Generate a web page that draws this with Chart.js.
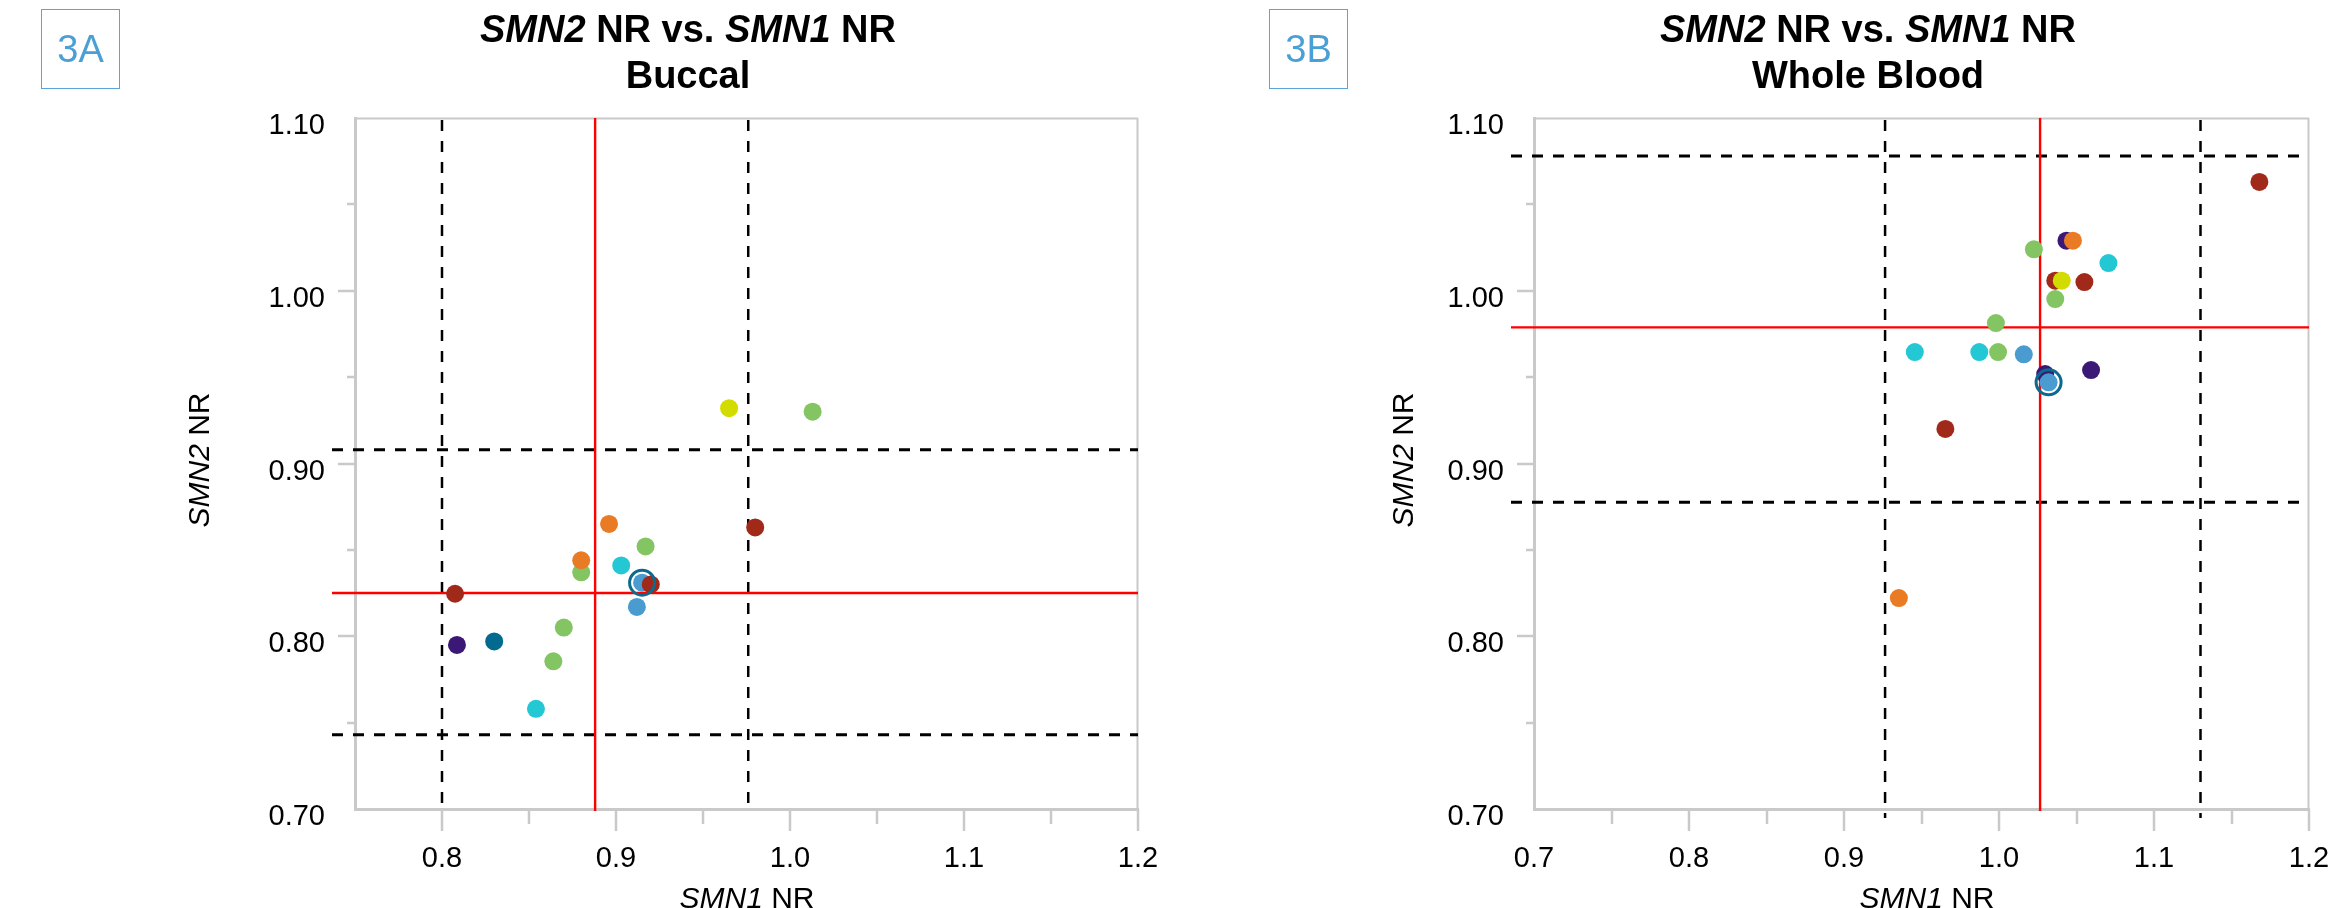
<!DOCTYPE html>
<html>
<head>
<meta charset="utf-8">
<script src="https://cdn.jsdelivr.net/npm/chart.js@4/dist/chart.umd.min.js"></script>
<style>
  html, body { margin:0; padding:0; background:#fff; }
  body { width:2343px; height:908px; position:relative; overflow:hidden; font-family:'Liberation Sans', Arial, sans-serif; }
  canvas { position:absolute; top:0; }
  .t { position:absolute; color:#000; white-space:nowrap; text-align:center; }
  .title { font-weight:bold; font-size:38px; line-height:46px; width:800px; top:6px; }
  .ytitle { font-size:30px; line-height:36px; width:300px; height:36px; top:442px; transform:rotate(-90deg); }
  .xtitle { font-size:30px; line-height:30px; width:600px; top:883px; }
  .panel { position:absolute; top:9px; width:77px; height:78px; border:1.5px solid #5aa4d7; color:#4a9fd4;
           font-size:38px; line-height:78px; text-align:center; }
</style>
</head>
<body>
<canvas id="c1" width="1172" height="908" style="left:0px;width:1172px;height:908px"></canvas>
<canvas id="c2" width="1171" height="908" style="left:1172px;width:1171px;height:908px"></canvas>

<div class="panel" style="left:41px">3A</div>
<div class="panel" style="left:1269px">3B</div>
<div class="t title" style="left:288px"><i>SMN2</i> NR vs. <i>SMN1</i> NR<br>Buccal</div>
<div class="t title" style="left:1468px"><i>SMN2</i> NR vs. <i>SMN1</i> NR<br>Whole Blood</div>
<div class="t ytitle" style="left:49px"><i>SMN2</i> NR</div>
<div class="t ytitle" style="left:1253px"><i>SMN2</i> NR</div>
<div class="t xtitle" style="left:447px"><i>SMN1</i> NR</div>
<div class="t xtitle" style="left:1627px"><i>SMN1</i> NR</div>

<script>
// ---------- data ----------
// Buccal (3A)
const buccalX     = [0.965, 1.013, 0.896, 0.980, 0.917, 0.880, 0.880, 0.903, 0.915, 0.920, 0.8075, 0.912, 0.870, 0.8086, 0.830, 0.864, 0.854];
const buccalY     = [0.932, 0.930, 0.865, 0.863, 0.852, 0.837, 0.844, 0.841, 0.831, 0.830, 0.8246, 0.817, 0.805, 0.795, 0.797, 0.7855, 0.758];
const buccalGroup = ['yellow','green','orange','darkred','green','green','orange','cyan','steel','darkred','darkred','steel','green','purple','teal','green','cyan'];
const buccalHighlight = [0.915, 0.831];
const buccalDashX = [0.800, 0.976];
const buccalDashY = [0.908, 0.743];
const buccalMeanX = 0.888;
const buccalMeanY = 0.825;

// Whole blood (3B)
const bloodX     = [1.168, 1.0435, 1.0477, 1.0225, 1.0706, 1.0363, 1.0405, 1.0551, 1.0363, 0.998, 0.9457, 0.9873, 0.9994, 1.016, 1.0298, 1.032, 1.0594, 0.9654, 0.9354];
const bloodY     = [1.063, 1.029, 1.029, 1.024, 1.016, 1.0058, 1.0058, 1.005, 0.9952, 0.9813, 0.9645, 0.9645, 0.9645, 0.9632, 0.9518, 0.947, 0.9541, 0.920, 0.8221];
const bloodGroup = ['darkred','purple','orange','green','cyan','darkred','yellow','darkred','green','green','cyan','cyan','green','steel','purple','steel','purple','darkred','orange'];
const bloodHighlight = [1.032, 0.947];
const bloodDashX = [0.9265, 1.13];
const bloodDashY = [1.078, 0.8775];
const bloodMeanX = 1.0265;
const bloodMeanY = 0.9788;

// axis ranges / ticks
const yMin = 0.70, yMax = 1.10, tickStep = 0.05;
const buccalXMin = 0.75, bloodXMin = 0.70, xMax = 1.20;

// ---------- styles ----------
const palette = {
  darkred:'#a0291a', orange:'#e97b25', green:'#83c563', cyan:'#23c8d4',
  steel:'#4a9bd0', purple:'#3b1876', teal:'#026a90', yellow:'#d3dc00'
};
const FONT = "'Liberation Sans', Arial, sans-serif";
const AXIS_GRAY = '#c9c9c9';

function isMajor(v) { return Math.abs(v * 10 - Math.round(v * 10)) < 1e-6; }

const decorPlugin = {
  id: 'decor',
  beforeDatasetsDraw(chart, args, opts) {
    const ctx = chart.ctx, a = chart.chartArea;
    const xs = chart.scales.x, ys = chart.scales.y;
    ctx.save();
    // top & right border
    ctx.strokeStyle = AXIS_GRAY; ctx.lineWidth = 2;
    ctx.beginPath();
    ctx.moveTo(a.left, a.top + 0.5); ctx.lineTo(a.right, a.top + 0.5);
    ctx.moveTo(a.right - 0.5, a.top); ctx.lineTo(a.right - 0.5, a.bottom);
    ctx.stroke();
    // tick marks
    ctx.lineWidth = 2.5; ctx.strokeStyle = AXIS_GRAY;
    ctx.beginPath();
    ys.ticks.forEach(t => {
      if (Math.abs(t.value - ys.min) < 1e-6 || Math.abs(t.value - ys.max) < 1e-6) return;
      const p = Math.round(ys.getPixelForValue(t.value));
      const len = isMajor(t.value) ? 17 : 8;
      ctx.moveTo(a.left - len, p); ctx.lineTo(a.left, p);
    });
    xs.ticks.forEach(t => {
      if (Math.abs(t.value - xs.min) < 1e-6) return;
      const p = Math.round(xs.getPixelForValue(t.value));
      const len = isMajor(t.value) ? 22 : 15;
      ctx.moveTo(p, a.bottom); ctx.lineTo(p, a.bottom + len);
    });
    ctx.stroke();
    // dashed reference lines
    ctx.strokeStyle = '#000'; ctx.lineWidth = 3; ctx.setLineDash([11, 10]);
    ctx.beginPath();
    opts.dashY.forEach(v => {
      const p = ys.getPixelForValue(v);
      ctx.moveTo(a.left - 23, p); ctx.lineTo(a.right, p);
    });
    ctx.stroke();
    ctx.lineWidth = 2.5;
    ctx.beginPath();
    opts.dashX.forEach(v => {
      const p = xs.getPixelForValue(v);
      ctx.moveTo(p, a.top + 2); ctx.lineTo(p, a.bottom + opts.vExt);
    });
    ctx.stroke();
    // red mean lines
    ctx.setLineDash([]);
    ctx.strokeStyle = '#ff0000'; ctx.lineWidth = 2.4;
    ctx.beginPath();
    const py = ys.getPixelForValue(opts.meanY);
    ctx.moveTo(a.left - 23, py); ctx.lineTo(a.right, py);
    const px = xs.getPixelForValue(opts.meanX);
    ctx.moveTo(px, a.top); ctx.lineTo(px, a.bottom + 2);
    ctx.stroke();
    ctx.restore();
  }
};

function makeChart(id, xs, ys, groups, hl, xMin, yAxisWidth, dashX, dashY, meanX, meanY, vExt) {
  const pts = xs.map((x, i) => ({ x: x, y: ys[i] }));
  return new Chart(document.getElementById(id), {
    type: 'scatter',
    data: {
      datasets: [
        { data: [{ x: hl[0], y: hl[1] }], pointRadius: 12.5, pointHoverRadius: 12.5,
          backgroundColor: 'rgba(0,0,0,0)', borderColor: '#0b6a8e', borderWidth: 3, pointBorderWidth: 3 },
        { data: pts, pointRadius: 9, pointHoverRadius: 9, borderWidth: 0, pointBorderWidth: 0,
          backgroundColor: groups.map(g => palette[g]), pointBackgroundColor: groups.map(g => palette[g]) }
      ]
    },
    options: {
      responsive: false, animation: false, devicePixelRatio: 1,
      events: [],
      layout: { padding: { left: 0, top: 118, right: 34, bottom: 0 } },
      plugins: {
        legend: { display: false }, tooltip: { enabled: false }, title: { display: false },
        decor: { dashX: dashX, dashY: dashY, meanX: meanX, meanY: meanY, vExt: vExt }
      },
      scales: {
        x: {
          type: 'linear', min: xMin, max: xMax,
          grid: { display: false, drawTicks: false },
          border: { display: true, color: AXIS_GRAY, width: 3 },
          ticks: { stepSize: tickStep, autoSkip: false, maxRotation: 0, padding: 33,
                   color: '#000', font: { family: FONT, size: 29 },
                   callback: v => isMajor(v) ? v.toFixed(1) : '' },
          afterFit: s => { s.height = 99; s.paddingLeft = 0; s.paddingRight = 0; }
        },
        y: {
          type: 'linear', min: yMin, max: yMax,
          grid: { display: false, drawTicks: false },
          border: { display: true, color: AXIS_GRAY, width: 3 },
          ticks: { stepSize: tickStep, autoSkip: false, padding: 30, labelOffset: 8,
                   color: '#000', font: { family: FONT, size: 29 },
                   callback: v => isMajor(v) ? v.toFixed(2) : '' },
          afterFit: s => { s.width = yAxisWidth; s.paddingTop = 0; s.paddingBottom = 0; }
        }
      }
    },
    plugins: [decorPlugin]
  });
}

makeChart('c1', buccalX, buccalY, buccalGroup, buccalHighlight, buccalXMin, 355,
          buccalDashX, buccalDashY, buccalMeanX, buccalMeanY, 2);
makeChart('c2', bloodX, bloodY, bloodGroup, bloodHighlight, bloodXMin, 362,
          bloodDashX, bloodDashY, bloodMeanX, bloodMeanY, 9);
</script>
</body>
</html>
